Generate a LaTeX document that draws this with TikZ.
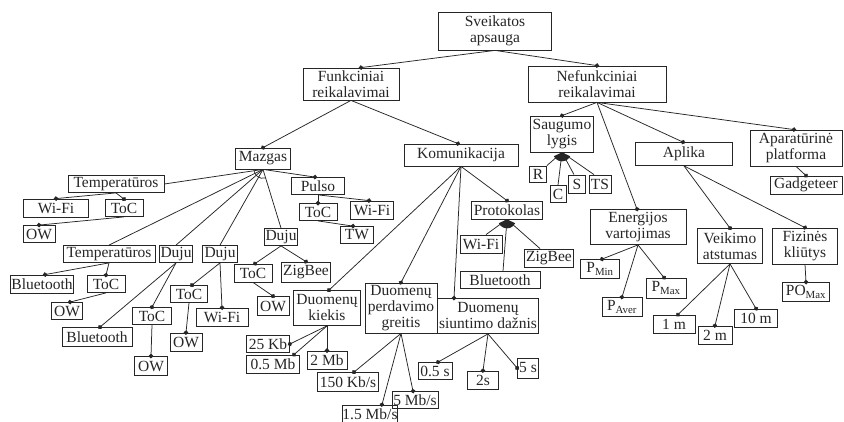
\documentclass[tikz,border=0pt]{standalone}
\usepackage{fontspec}
\setmainfont{Liberation Serif}
\usetikzlibrary{arrows.meta}
\definecolor{ink}{HTML}{262626}
\tikzset{
  bx/.style={draw=ink, line width=0.8pt, inner sep=0pt, align=center, text=ink,
    font=\fontsize{15.5}{16}\selectfont},
  ln/.style={draw=ink, line width=0.75pt},
  dt/.style={ln, -{Circle[length=4.5pt]}, shorten >=-2.25pt},
  orfill/.style={fill=ink},
}
\newcommand\bxn[6]{\node[bx, minimum width=#4pt, minimum height=#5pt] (#1) at (#2,#3) {#6};}
\begin{document}
\begin{tikzpicture}[x=1pt,y=-1pt]
\useasboundingbox (0,0) rectangle (844,422);
\fill[white] (0,0) rectangle (844,422);

% top levels
\bxn{sv}{495}{31}{113}{38}{Sveikatos\\apsauga}
\bxn{fr}{351}{84}{96}{32}{Funkciniai\\reikalavimai}
\bxn{nf}{597}{84}{138}{36}{Nefunkciniai\\reikalavimai}

% functional branch
\bxn{mz}{263}{158.5}{55}{21}{Mazgas}
\bxn{km}{461}{155}{114}{22}{Komunikacija}

\bxn{t1}{116}{184}{96}{17}{Temperatūros}
\bxn{t1w}{56}{208}{65}{18}{Wi-Fi}
\bxn{t1t}{124}{208}{38}{17}{ToC}
\bxn{t1o}{39}{234}{32}{17}{OW}

\bxn{t2}{109}{254}{92}{17}{Temperatūros}
\bxn{t2b}{42}{284}{63}{18}{Bluetooth}
\bxn{t2t}{106}{284}{38}{17}{ToC}
\bxn{t2o}{67}{311}{31}{17}{OW}

\bxn{d1}{176}{254}{33}{17}{Duju}
\bxn{d1b}{97}{337}{70}{19}{Bluetooth}
\bxn{d1t}{152}{316}{39}{17}{ToC}
\bxn{d1o}{151}{366}{33}{19}{OW}

\bxn{d2}{220}{254}{35}{17}{Duju}
\bxn{d2t}{189}{294}{37}{17}{ToC}
\bxn{d2w}{222}{317}{52}{18}{Wi-Fi}
\bxn{d2o}{186}{342}{32}{18}{OW}

\bxn{d3}{281}{237}{33}{17}{Duju}
\bxn{d3t}{253}{273}{38}{18}{ToC}
\bxn{d3z}{306}{272}{49}{20}{ZigBee}
\bxn{d3o}{273}{306}{32}{19}{OW}

\bxn{pu}{318}{186}{53}{17}{Pulso}
\bxn{put}{318}{212}{38}{17}{ToC}
\bxn{puw}{372}{210}{43}{18}{Wi-Fi}
\bxn{puo}{357}{235}{33}{17}{TW}

\bxn{dk}{327}{308}{67}{35}{Duomenų\\kiekis}
\bxn{k25}{268}{344}{43}{17}{25 Kb}
\bxn{k05}{273}{364}{53}{18}{0.5 Mb}
\bxn{k2}{327}{360}{40}{18}{2 Mb}

\bxn{dp}{401}{308}{72}{50}{Duomenų\\perdavimo\\greitis}
\bxn{p150}{348}{382}{61}{19}{150 Kb/s}
\bxn{p15}{370}{414}{55}{18}{1.5 Mb/s}
\bxn{p5}{415}{400}{46}{17}{5 Mb/s}

\bxn{ds}{488}{316}{101}{35}{Duomenų\\siuntimo dažnis}
\bxn{s05}{435}{371}{34}{17}{0.5 s}
\bxn{s2}{483}{380}{31}{18}{2s}
\bxn{s5}{528}{368}{21}{20}{5 s}

\bxn{pr}{507}{210}{71}{18}{Protokolas}
\bxn{prw}{481}{244}{42}{18}{Wi-Fi}
\bxn{prz}{549}{258}{49}{18}{ZigBee}
\bxn{prb}{500}{280}{80}{17}{Bluetooth}

% non-functional branch
\bxn{sl}{562}{134}{63}{36}{Saugumo\\lygis}
\bxn{slr}{538}{174}{17}{16}{R}
\bxn{slc}{558}{194}{16}{17}{C}
\bxn{sls}{577}{184}{17}{18}{S}
\bxn{slts}{600}{184}{22}{18}{TS}

\bxn{ev}{638}{227}{96}{35}{Energijos\\vartojimas}
\bxn{pmin}{600}{269}{39}{19}{P\textsubscript{Min}}
\bxn{paver}{622}{307}{40}{19}{P\textsubscript{Aver}}
\bxn{pmax}{666}{288}{40}{20}{P\textsubscript{Max}}

\bxn{ap}{684}{154}{97}{23}{Aplika}
\bxn{va}{730}{246}{65}{35}{Veikimo\\atstumas}
\bxn{m1}{674}{324}{42}{18}{1 m}
\bxn{m2}{715}{335}{34}{18}{2 m}
\bxn{m10}{756}{318}{43}{18}{10 m}
\bxn{fk}{805}{246}{65}{36}{Fizinės\\kliūtys}
\bxn{pom}{806}{292}{47}{19}{PO\textsubscript{Max}}

\bxn{pl}{796}{148}{92}{36}{Aparatūrinė\\platforma}
\bxn{gd}{806}{185}{72}{18}{Gadgeteer}

% connectors
\draw[dt] (sv.south) -- ([xshift=10pt]fr.north);
\draw[dt] (sv.south) -- (nf.north);
\draw[dt] (fr.south) -- (mz.north);
\draw[dt] (fr.south) -- ([xshift=-3pt]km.north);

% Mazgas group
\draw[ln] (mz.south) -- (t1.east);
\draw[ln] (mz.south) -- (t2.north);
\draw[ln] (mz.south) -- (d1.north);
\draw[ln] (mz.south) -- (d2.north);
\draw[ln] (mz.south) -- (d3.north);
\draw[ln] (mz.south) ++(73:9) arc[start angle=73, end angle=171, radius=9];
\draw[dt] (mz.south) -- ([xshift=-3pt]pu.north);

\draw[dt] (t1.south) -- (t1w.north);
\draw[dt] (t1.south) -- (t1t.north);
\draw[dt] (t1t.south) -- (t1o.north);
\draw[dt] (t2.south) -- ([xshift=3pt]t2b.north);
\draw[dt] (t2.south) -- (t2t.north);
\draw[dt] (t2t.south) -- ([xshift=3pt]t2o.north);
\draw[dt] (d1.south) -- ([xshift=3pt]d1b.north);
\draw[dt] (d1.south) -- (d1t.north);
\draw[dt] (d1t.south) -- (d1o.north);
\draw[dt] (d2.south) -- ([xshift=3pt]d2t.north);
\draw[dt] (d2.south) -- (d2w.north);
\draw[dt] (d2t.south) -- (d2o.north);
\draw[dt] (d3.south) -- ([xshift=2pt]d3t.north);
\draw[dt] (d3.south) -- (d3z.north);
\draw[dt] (d3t.south) -- (d3o.north);
\draw[dt] (pu.south) -- (put.north);
\draw[dt] (pu.south) -- ([xshift=-3pt]puw.north);
\draw[dt] (put.south) -- ([xshift=-4pt]puo.north);

% Komunikacija group
\draw[dt] (km.south) -- ([xshift=2pt]dk.north);
\draw[dt] (km.south) -- (dp.north);
\draw[dt] (km.south) -- ([xshift=-34pt]ds.north);
\draw[dt] (km.south) -- (pr.north);
\draw[dt] (dk.south) -- (k25.east);
\draw[dt] (dk.south) -- ([xshift=21pt]k05.north);
\draw[dt] (dk.south) -- (k2.north);
\draw[dt] (dp.south) -- ([xshift=6pt]p150.north);
\draw[dt] (dp.south) -- ([xshift=12pt]p15.north);
\draw[dt] (dp.south) -- ([xshift=-2pt]p5.north);
\draw[dt] (ds.south) -- ([xshift=3pt]s05.north);
\draw[dt] (ds.south) -- (s2.north);
\draw[dt] (ds.south) -- (s5.west);
\fill[orfill] (pr.south) -- ++(25:9) arc[start angle=25, end angle=155, radius=9] -- cycle;
\draw[ln] (pr.south) -- ([xshift=5pt]prw.north);
\draw[ln] (pr.south) -- ([xshift=3pt]prb.north);
\draw[ln] (pr.south) -- ([xshift=-9pt]prz.north);

% non-functional connectors
\draw[dt] (nf.south) -- (sl.north);
\draw[dt] (nf.south) -- ([xshift=-1pt]ev.north);
\draw[dt] (nf.south) -- ([xshift=-1pt]ap.north);
\draw[dt] (nf.south) -- ([xshift=-2pt]pl.north);
\fill[orfill] (sl.south) -- ++(25:9) arc[start angle=25, end angle=155, radius=9] -- cycle;
\draw[ln] (sl.south) -- (slr.north east);
\draw[ln] (sl.south) -- (slc.north);
\draw[ln] (sl.south) -- ([xshift=-3pt]sls.north);
\draw[ln] (sl.south) -- ([xshift=-6pt]slts.north);
\draw[dt] (ev.south) -- ([xshift=2pt]pmin.north);
\draw[dt] (ev.south) -- (paver.north);
\draw[dt] (ev.south) -- ([xshift=-2pt]pmax.north);
\draw[dt] (ap.south) -- (va.north);
\draw[dt] (ap.south) -- (fk.north);
\draw[dt] (va.south) -- ([xshift=4pt]m1.north);
\draw[dt] (va.south) -- (m2.north);
\draw[dt] (va.south) -- (m10.north);
\draw[dt] (fk.south) -- (pom.north);
\draw[dt] (pl.south) -- (gd.north);
\end{tikzpicture}
\end{document}
